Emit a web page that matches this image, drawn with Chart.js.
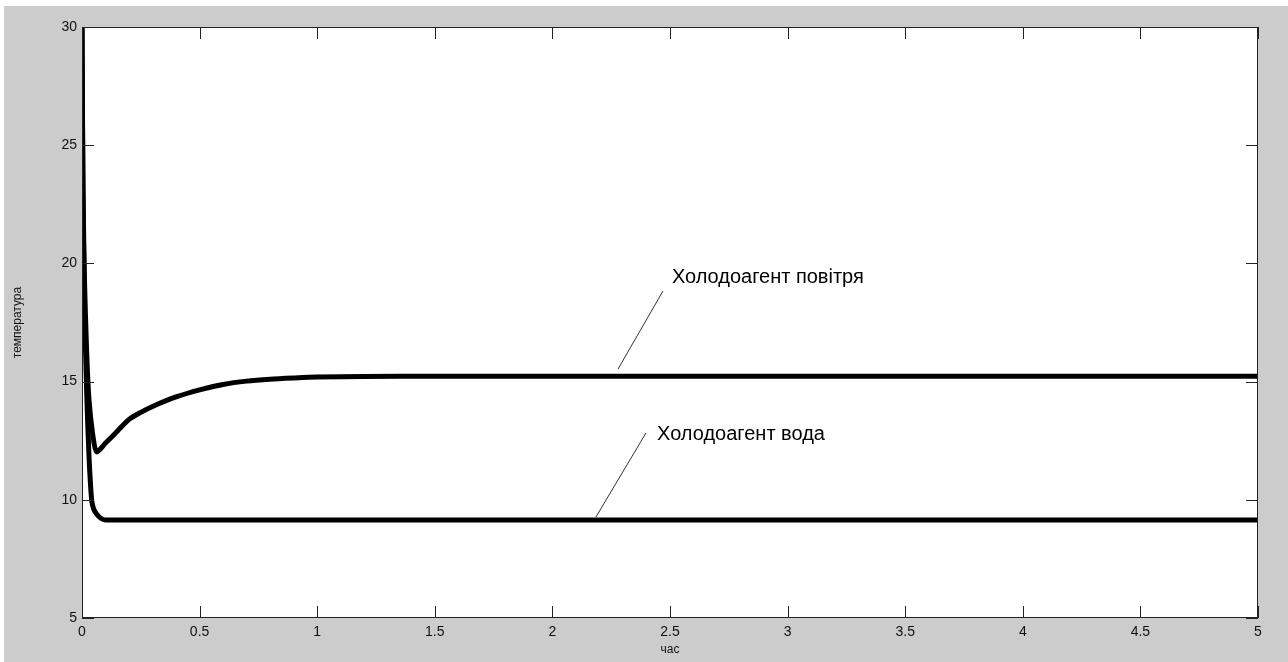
<!DOCTYPE html>
<html>
<head>
<meta charset="utf-8">
<script src="https://cdn.jsdelivr.net/npm/chart.js@4.4.0/dist/chart.umd.min.js"></script>
<style>
  html, body { margin: 0; padding: 0; background: #fff; }
  #wrap { width: 1288px; height: 662px; }
</style>
</head>
<body>
<div id="wrap"><canvas id="chart" width="1288" height="662"></canvas></div>
<script>
// time (час) and temperature readings for each refrigerant
const timeAir = [0, 0.004, 0.01, 0.02, 0.03, 0.045, 0.062, 0.1, 0.15, 0.2, 0.25, 0.3, 0.4, 0.5, 0.6, 0.7, 0.8, 0.9, 1.0, 1.2, 1.5, 2, 3, 4, 5];
const tempAir = [30, 23.5, 19.5, 16.2, 14.2, 12.8, 12.03, 12.4, 12.9, 13.4, 13.7, 13.95, 14.35, 14.65, 14.88, 15.02, 15.1, 15.15, 15.19, 15.22, 15.23, 15.23, 15.23, 15.23, 15.23];

const timeWater = [0, 0.004, 0.01, 0.02, 0.03, 0.041, 0.05, 0.062, 0.08, 0.1, 0.2, 1, 2, 3, 4, 5];
const tempWater = [30, 23.0, 18.5, 14.5, 11.8, 9.99, 9.6, 9.4, 9.22, 9.15, 9.15, 9.15, 9.15, 9.15, 9.15, 9.15];

const xTicks = [0, 0.5, 1, 1.5, 2, 2.5, 3, 3.5, 4, 4.5, 5];
const yTicks = [5, 10, 15, 20, 25, 30];

const xTitle = 'час';
const yTitle = 'температура';

// annotation text with pointer line (data coordinates)
const notes = [
  { text: 'Холодоагент повітря', from: [2.279, 15.53], to: [2.470, 18.83], at: [2.508, 19.17] },
  { text: 'Холодоагент вода', from: [2.185, 9.27], to: [2.398, 12.83], at: [2.445, 12.53] }
];

function pts(xs, ys) {
  return xs.map((x, i) => ({ x: x, y: ys[i] }));
}

const figure = {
  id: 'figure',
  beforeDraw(chart) {
    const ctx = chart.ctx;
    const a = chart.chartArea;
    ctx.save();
    ctx.fillStyle = '#ffffff';
    ctx.fillRect(0, 0, chart.width, chart.height);
    ctx.fillStyle = '#cccccc';
    ctx.fillRect(4, 6, chart.width - 4, chart.height - 6);
    ctx.fillStyle = '#ffffff';
    ctx.fillRect(a.left, a.top, a.right - a.left, a.bottom - a.top);
    ctx.restore();
  },
  afterDatasetsDraw(chart) {
    const ctx = chart.ctx;
    const a = chart.chartArea;
    const xs = chart.scales.x, ys = chart.scales.y;
    const len = 12;
    ctx.save();
    ctx.strokeStyle = '#222';
    ctx.lineWidth = 1;
    ctx.beginPath();
    xTicks.forEach(v => {
      const px = Math.round(xs.getPixelForValue(v)) + 0.5;
      ctx.moveTo(px, a.bottom); ctx.lineTo(px, a.bottom - len);
      ctx.moveTo(px, a.top); ctx.lineTo(px, a.top + len);
    });
    yTicks.forEach(v => {
      const py = Math.round(ys.getPixelForValue(v)) + 0.5;
      ctx.moveTo(a.left, py); ctx.lineTo(a.left + len, py);
      ctx.moveTo(a.right, py); ctx.lineTo(a.right - len, py);
    });
    ctx.stroke();
    // box
    ctx.strokeStyle = '#222';
    ctx.strokeRect(a.left + 0.5, a.top + 0.5, a.right - a.left - 1, a.bottom - a.top - 1);

    // annotations
    ctx.strokeStyle = '#333';
    ctx.lineWidth = 1;
    notes.forEach(n => {
      ctx.beginPath();
      ctx.moveTo(xs.getPixelForValue(n.from[0]), ys.getPixelForValue(n.from[1]));
      ctx.lineTo(xs.getPixelForValue(n.to[0]), ys.getPixelForValue(n.to[1]));
      ctx.stroke();
      ctx.fillStyle = '#000';
      ctx.font = '20px "Liberation Sans", Arial, sans-serif';
      ctx.textAlign = 'left';
      ctx.textBaseline = 'alphabetic';
      ctx.fillText(n.text, xs.getPixelForValue(n.at[0]), ys.getPixelForValue(n.at[1]));
    });

    // axis titles
    ctx.fillStyle = '#111';
    ctx.font = '12px "Liberation Sans", Arial, sans-serif';
    ctx.textAlign = 'center';
    ctx.textBaseline = 'middle';
    ctx.fillText(xTitle, (a.left + a.right) / 2, 650);
    ctx.translate(18, (a.top + a.bottom) / 2);
    ctx.rotate(-Math.PI / 2);
    ctx.fillText(yTitle, 0, 0);
    ctx.restore();
  }
};

const ctx = document.getElementById('chart').getContext('2d');
new Chart(ctx, {
  type: 'line',
  data: {
    datasets: [
      { label: 'Холодоагент повітря', data: pts(timeAir, tempAir), borderColor: '#000', borderWidth: 5, pointRadius: 0, tension: 0.25, fill: false },
      { label: 'Холодоагент вода', data: pts(timeWater, tempWater), borderColor: '#000', borderWidth: 5, pointRadius: 0, tension: 0.25, fill: false }
    ]
  },
  options: {
    responsive: false,
    animation: false,
    events: [],
    layout: { padding: { top: 27, right: 30, left: 0, bottom: 0 } },
    plugins: { legend: { display: false }, tooltip: { enabled: false } },
    scales: {
      x: {
        type: 'linear', min: 0, max: 5,
        afterFit(s) { s.height = 44; },
        afterBuildTicks(s) { s.ticks = xTicks.map(v => ({ value: v })); },
        grid: { display: false, drawTicks: false },
        border: { display: false },
        ticks: { padding: 6, color: '#111', callback: v => String(v), font: { family: '"Liberation Sans", Arial, sans-serif', size: 14 }, maxRotation: 0, autoSkip: false }
      },
      y: {
        type: 'linear', min: 5, max: 30,
        afterFit(s) { s.width = 82; },
        afterBuildTicks(s) { s.ticks = yTicks.map(v => ({ value: v })); },
        grid: { display: false, drawTicks: false },
        border: { display: false },
        ticks: { padding: 5, color: '#111', callback: v => String(v), font: { family: '"Liberation Sans", Arial, sans-serif', size: 14 } }
      }
    }
  },
  plugins: [figure]
});
</script>
</body>
</html>
